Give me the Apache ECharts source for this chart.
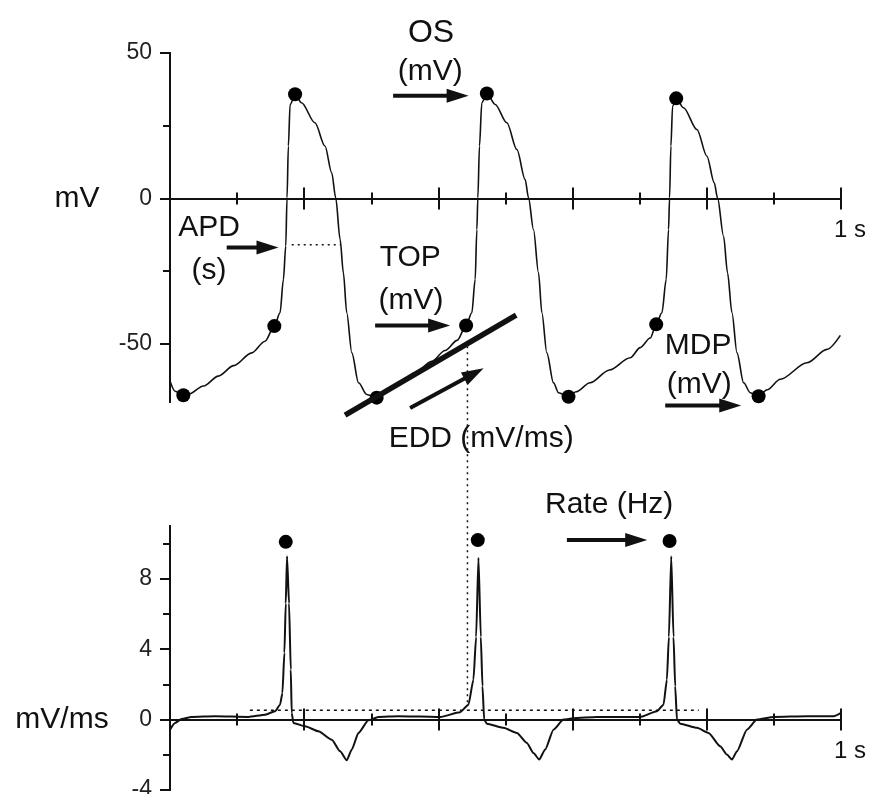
<!DOCTYPE html>
<html><head><meta charset="utf-8">
<script src="https://cdn.jsdelivr.net/npm/echarts@6/dist/echarts.min.js"></script>
<style>html,body{margin:0;padding:0;background:#fff}#c{width:871px;height:794px}</style>
</head><body><div id="c"></div>
<script>
// ---- action potential trace (time s, membrane potential mV) ----
const apTime = [0.000,0.0075,0.0199,0.0273,0.050,0.072,0.095,0.1218,0.1416,0.1555,0.164,0.169,0.1725,0.1744,0.1764,0.179,0.1864,0.196,0.216,0.231,0.241,0.247,0.2535,0.2584,0.2634,0.271,0.281,0.2932,0.308,
 0.316,0.340,0.365,0.390,0.410,0.428,0.4413,0.4498,0.4548,0.4573,0.4588,0.4612,0.4647,0.4722,0.4846,0.502,0.517,0.5293,0.5343,0.5417,0.5492,0.5542,0.5616,0.5715,0.579,0.5939,
 0.605,0.626,0.655,0.6858,0.7008,0.7157,0.7246,0.7331,0.7395,0.743,0.7445,0.7465,0.749,0.7544,0.7653,0.7853,0.8002,0.8111,0.816,0.825,0.8309,0.8375,0.845,0.8549,0.8648,0.8772,
 0.890,0.9095,0.9493,0.9791,0.999];
const apVolt = [-62.8,-66.3,-67.7,-67.4,-64.5,-61.1,-57.5,-53.1,-49.1,-43.9,-39.3,-27.9,-16.4,0.2,18,32.3,35.8,32.9,26,18,8.8,0.2,-14.1,-25.6,-39.3,-53.1,-63.4,-67.4,-68.5,
 -67.6,-63.8,-60,-56,-52.3,-48.8,-43.7,-39.3,-27.9,-10.7,0.2,18,32.9,36.1,32.3,26,16.8,6.5,0.2,-10.7,-25.6,-39.3,-53.1,-63.4,-66.8,-68.2,
 -66.5,-63.4,-59,-54.8,-51.3,-48,-43.3,-39.3,-27.9,-10.7,0.2,18,31.7,34.4,31.2,23.7,14.5,5.4,0.2,-13,-25.6,-39.3,-53.1,-63.4,-66.8,-68,
 -65.8,-62.2,-56.5,-51.9,-47.1];

// ---- first derivative trace (time s, dV/dt mV/ms) ----
const dvTime = [0,0.0075,0.0174,0.032,0.067,0.117,0.1416,0.1566,0.164,0.1675,0.1705,0.1725,0.1744,0.1774,0.180,0.1814,0.1839,0.2013,0.2211,0.2411,0.2535,0.2634,0.2709,0.2808,0.2957,0.3106,0.3404,0.3725,
 0.4026,0.4324,0.4448,0.4522,0.4562,0.4597,0.4632,0.4657,0.4682,0.4722,0.497,0.517,0.5318,0.5417,0.5502,0.5591,0.5715,0.5864,0.6013,0.6362,
 0.7008,0.7256,0.7355,0.7405,0.7435,0.747,0.7504,0.7529,0.7555,0.7604,0.7853,0.8026,0.820,0.830,0.8375,0.845,0.8598,0.8747,0.8995,0.9493,0.9891,1.0];
const dvValue = [-0.57,-0.19,0.04,0.15,0.19,0.15,0.28,0.47,0.85,1.5,3.8,6.6,9.28,6.6,2.84,0.38,-0.19,-0.38,-0.66,-1.14,-1.8,-2.31,-1.7,-0.76,-0.04,0.15,0.19,0.17,
 0.15,0.42,0.85,2.27,4.7,9.2,4.7,1.9,0,-0.23,-0.47,-0.76,-1.33,-1.9,-2.27,-1.7,-0.57,0,0.08,0.15,
 0.15,0.47,0.85,2.27,4.7,9.28,4.7,1.9,0,-0.23,-0.47,-0.76,-1.52,-1.99,-2.27,-1.8,-0.57,0,0.15,0.19,0.19,0.38];

// ---- marked points ----
const osTime = [0.1864,0.4722,0.7544], osVolt = [35.8,36.1,34.4];
const topTime = [0.1555,0.4413,0.7246], topVolt = [-43.9,-43.7,-43.3];
const mdpTime = [0.0199,0.308,0.5939,0.8772], mdpVolt = [-67.7,-68.5,-68.2,-68.0];
const rateTime = [0.1725,0.4587,0.7445], rateValue = [10.1,10.2,10.15];

// ---- reference levels ----
const apdLevel = -15.9, apdStart = 0.1814, apdEnd = 0.2535;
const thrLevel = 0.53, thrStart = 0.119, thrEnd = 0.788;
const eddTime = 0.4433, eddTopVolt = -50.8, eddBottomValue = 0.75;

// ---- axis ticks ----
const vTicksMajor = [-50,0,50], vTicksMinor = [-25,25];
const dTicksMajor = [-4,0,4,8], dTicksMinor = [-2,2,6,10];
const timeEndLabel = '1 s';

const FONT = '"Liberation Sans", Arial, sans-serif';
const INK = '#111';
const chart = echarts.init(document.getElementById('c'), null, {renderer:'canvas'});

function xAx(grid, pos){
  return {type:'value', gridIndex:grid, position:pos, min:0, max:1, interval:0.2,
    axisLine:{show:true, onZero:true, lineStyle:{color:INK, width:2}},
    axisTick:{show:true, inside:false, length:11, lineStyle:{color:INK, width:2}},
    minorTick:{show:true, splitNumber:2, length:6, lineStyle:{color:INK, width:2}},
    axisLabel:{show:false},
    splitLine:{show:false}, minorSplitLine:{show:false}};
}
function yAx(grid, min, max, ticks, len, labels){
  return {type:'value', gridIndex:grid, position:'left', min:min, max:max,
    axisLine:{show:true, onZero:false, lineStyle:{color:INK, width:2}},
    axisTick:{show:true, length:len, customValues:ticks, lineStyle:{color:INK, width:2}},
    axisLabel:{show:labels, customValues:ticks, margin:18, fontFamily:FONT, fontSize:23, color:'#222'},
    splitLine:{show:false}};
}
const zip = (a,b) => a.map((x,i)=>[x,b[i]]);

chart.setOption({
  animation:false,
  backgroundColor:'#fff',
  grid:[
    {left:170, top:53, width:671, height:349, containLabel:false, outerBoundsMode:'none'},
    {left:170, top:526, width:671, height:264, containLabel:false, outerBoundsMode:'none'}
  ],
  xAxis:[xAx(0,'bottom'), xAx(0,'top'), xAx(1,'bottom'), xAx(1,'top')],
  yAxis:[yAx(0,-70,50,vTicksMajor,10,true), yAx(0,-70,50,vTicksMinor,7,false),
         yAx(1,-4,11,dTicksMajor,10,true), yAx(1,-4,11,dTicksMinor,7,false)],
  series:[
    {type:'line', xAxisIndex:0, yAxisIndex:0, data:zip(apTime,apVolt), showSymbol:false, smooth:0.3, smoothMonotone:'x',
      lineStyle:{color:INK, width:1.6}, clip:false, z:3},
    {type:'line', xAxisIndex:2, yAxisIndex:2, data:zip(dvTime,dvValue), showSymbol:false, smooth:0.2, smoothMonotone:'x',
      lineStyle:{color:INK, width:2}, clip:false, z:3},
    {type:'line', xAxisIndex:0, yAxisIndex:0, data:[[apdStart,apdLevel],[apdEnd,apdLevel]], showSymbol:false,
      lineStyle:{color:INK, width:1.5, type:[2,4]}},
    {type:'line', xAxisIndex:2, yAxisIndex:2, data:[[thrStart,thrLevel],[thrEnd,thrLevel]], showSymbol:false,
      lineStyle:{color:INK, width:1.5, type:[3,4]}},
    {type:'scatter', xAxisIndex:0, yAxisIndex:0, data:zip(osTime,osVolt).concat(zip(topTime,topVolt), zip(mdpTime,mdpVolt)),
      symbolSize:14, itemStyle:{color:'#000', opacity:1}, z:5},
    {type:'scatter', xAxisIndex:2, yAxisIndex:2, data:zip(rateTime,rateValue), symbolSize:14, itemStyle:{color:'#000', opacity:1}, z:5}
  ]
});

// ---- annotations, placed in data coordinates and converted with the chart's scales ----
const P = (g,t,v) => chart.convertToPixel({gridIndex:g},[t,v]);
const notes = [
  {g:0, t:0.389, v:56.9, text:'OS', size:32},
  {g:0, t:0.388, v:43.5, text:'(mV)', size:30},
  {g:0, t:-0.1387, v:0, text:'mV', size:30},
  {g:0, t:0.0581, v:-10.2, text:'APD', size:30},
  {g:0, t:0.0581, v:-25.0, text:'(s)', size:30},
  {g:0, t:0.358, v:-20.5, text:'TOP', size:30},
  {g:0, t:0.3593, v:-35.3, text:'(mV)', size:30},
  {g:0, t:0.787, v:-50.8, text:'MDP', size:30},
  {g:0, t:0.7887, v:-64.2, text:'(mV)', size:30},
  {g:0, t:0.4637, v:-82.7, text:'EDD (mV/ms)', size:30},
  {g:1, t:0.6545, v:12.19, text:'Rate (Hz)', size:30},
  {g:1, t:-0.161, v:0, text:'mV/ms', size:30},
  {g:0, t:1.0134, v:-10.9, text:timeEndLabel, size:24},
  {g:1, t:1.0134, v:-1.8, text:timeEndLabel, size:24}
];
const arrows = [
  {g:0, from:[0.3325,35.3], to:[0.445,35.3]},
  {g:0, from:[0.0845,-16.9], to:[0.1617,-16.9]},
  {g:0, from:[0.3057,-43.7], to:[0.4175,-43.7]},
  {g:0, from:[0.3578,-72.1], to:[0.4674,-58.4]},
  {g:0, from:[0.738,-71.2], to:[0.8513,-71.2]},
  {g:1, from:[0.5915,10.2], to:[0.7112,10.2]}
];
const eddTangent = {g:0, from:[0.2609,-74.5], to:[0.5159,-40.1]};

const gr = [];
notes.forEach(n => {
  const p = P(n.g, n.t, n.v);
  gr.push({type:'text', x:p[0], y:p[1], z:10,
    style:{text:n.text, fontFamily:FONT, fontSize:n.size, fill:INK, align:'center', verticalAlign:'middle',
      textAlign:'center', textVerticalAlign:'middle'}});
});
arrows.forEach(a => {
  const p1 = P(a.g, a.from[0], a.from[1]), p2 = P(a.g, a.to[0], a.to[1]);
  const dx = p2[0]-p1[0], dy = p2[1]-p1[1], len = Math.hypot(dx,dy), ux = dx/len, uy = dy/len;
  const L = 22, W = 7, bx = p2[0]-ux*L, by = p2[1]-uy*L;
  gr.push({type:'line', z:10, shape:{x1:p1[0], y1:p1[1], x2:bx+ux*3, y2:by+uy*3}, style:{stroke:INK, lineWidth:4}});
  gr.push({type:'polygon', z:10, shape:{points:[[p2[0],p2[1]],[bx-uy*W,by+ux*W],[bx+uy*W,by-ux*W]]}, style:{fill:INK}});
});
{
  const p1 = P(eddTangent.g, eddTangent.from[0], eddTangent.from[1]);
  const p2 = P(eddTangent.g, eddTangent.to[0], eddTangent.to[1]);
  gr.push({type:'line', z:10, shape:{x1:p1[0], y1:p1[1], x2:p2[0], y2:p2[1]}, style:{stroke:INK, lineWidth:5.5}});
}
{
  const p1 = P(0, eddTime, eddTopVolt), p2 = P(1, eddTime, eddBottomValue);
  gr.push({type:'line', z:2, shape:{x1:p1[0], y1:p1[1], x2:p2[0], y2:p2[1]}, style:{stroke:INK, lineWidth:1.5, lineDash:[2,4]}});
}
chart.setOption({graphic: gr});
</script></body></html>
